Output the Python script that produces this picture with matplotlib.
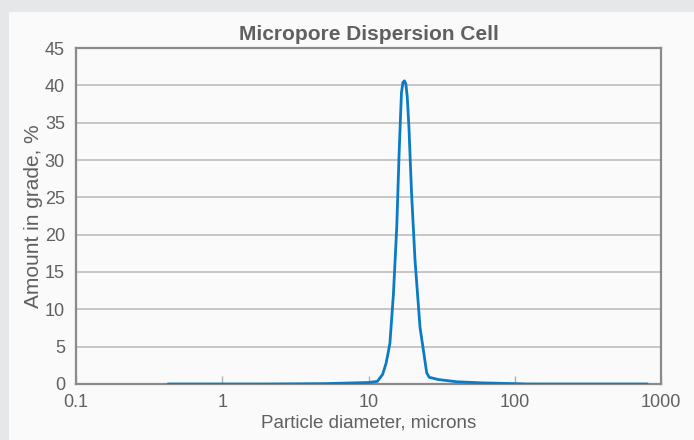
import matplotlib
matplotlib.use('Agg')
import matplotlib.pyplot as plt
from matplotlib.patches import Rectangle
from matplotlib.ticker import FixedLocator, NullLocator

# particle size distribution
diameter = [0.43, 1, 2, 5, 8, 10, 11.5, 12.5, 13.2, 14, 14.8, 15.6, 16.2,
            16.8, 17.2, 17.6, 18.0, 18.4, 18.9, 19.7, 20.8, 22.5, 25, 26,
            30, 40, 60, 100, 125, 300, 800]
amount = [0, 0, 0, 0.05, 0.15, 0.2, 0.35, 1.3, 2.8, 5.4, 12, 21, 31,
          39.0, 40.4, 40.6, 40.2, 38.5, 34.4, 25.5, 16.6, 7.6, 1.5, 0.9,
          0.6, 0.3, 0.15, 0.05, 0, 0, 0]

xticks = [0.1, 1, 10, 100, 1000]
xlabels = ['0.1', '1', '10', '100', '1000']
yticks = list(range(0, 50, 5))

txt = '#606060'
fam = ['Liberation Sans', 'DejaVu Sans']
plt.rcParams['font.family'] = fam

fig = plt.figure(figsize=(6.94, 4.4), dpi=100)
fig.patch.set_facecolor('#e6e7e8')
fig.patches.append(Rectangle((9 / 694, 0), 1, 1 - 12 / 440, transform=fig.transFigure,
                             facecolor='#fafafa', edgecolor='none', zorder=-10))

ax = fig.add_axes([76 / 694, 1 - 384 / 440, (661 - 76) / 694, (384 - 48) / 440])
ax.set_facecolor('#fafafa')

ax.plot(diameter, amount, color='#0a7bc4', lw=2.0, zorder=3, solid_joinstyle='round')

ax.set_xscale('log')
ax.set_xlim(0.1, 1000)
ax.set_ylim(0, 45)
ax.xaxis.set_major_locator(FixedLocator(xticks))
ax.xaxis.set_minor_locator(NullLocator())
ax.set_xticklabels(xlabels)
ax.set_yticks(yticks)

ax.grid(axis='y', color='#bdbdbd', lw=1.2, zorder=1)
for s in ax.spines.values():
    s.set_color('#8a8a8a')
    s.set_linewidth(1.6)

ax.tick_params(axis='x', direction='in', length=6, width=1, color='#b0b0b0',
               labelsize=13, labelcolor=txt, pad=7)
ax.tick_params(axis='y', length=0, labelsize=13, labelcolor=txt, pad=8)

ax.set_xlabel('Particle diameter, microns', fontsize=13.5, color=txt, labelpad=3)
ax.set_ylabel('Amount in grade, %', fontsize=15, color=txt, labelpad=1)
ax.set_title('Micropore Dispersion Cell', fontsize=15, fontweight='bold', color=txt,
             pad=6)

fig.savefig('out.png', dpi=100, facecolor=fig.get_facecolor())
